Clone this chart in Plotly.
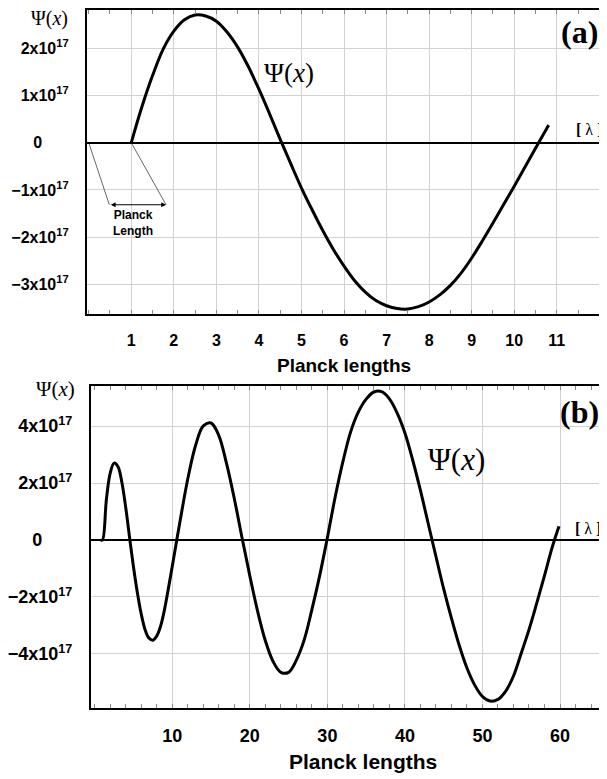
import plotly.graph_objects as go

PSI_SCALE = 1e17

# Panel (a): values (x in Planck lengths, psi in units of 1e17)
x_a = [1.0, 1.25, 1.5, 1.75, 2.0, 2.25, 2.5, 2.75, 3.0, 3.25, 3.5, 3.75, 4.0, 4.25, 4.5,
       4.75, 5.0, 5.25, 5.5, 5.75, 6.0, 6.25, 6.5, 6.75, 7.0, 7.25, 7.5, 7.75, 8.0, 8.25,
       8.5, 8.75, 9.0, 9.25, 9.5, 9.75, 10.0, 10.25, 10.5, 10.75, 10.81]
psi_a = [0.0, 0.76, 1.42, 1.98, 2.36, 2.60, 2.70, 2.68, 2.57, 2.34, 2.02, 1.61, 1.13, 0.61, 0.07,
         -0.45, -0.96, -1.42, -1.86, -2.26, -2.61, -2.92, -3.16, -3.34, -3.45, -3.51, -3.52, -3.47, -3.37, -3.22,
         -3.02, -2.76, -2.44, -2.08, -1.70, -1.31, -0.92, -0.52, -0.12, 0.28, 0.37]

# Panel (b)
x_b = [0.8, 1.0, 1.5, 2.0, 2.5, 3.0, 3.5, 4.0, 4.5, 5.0, 5.5, 6.0, 6.5, 7.0, 7.5, 8.0, 8.5,
       9.0, 9.5, 10.0, 10.5, 11, 12, 13, 14, 15, 16, 17, 18, 19, 20, 21, 22, 23, 24, 25, 26,
       27, 28, 29, 30, 31, 32, 33, 34, 35, 36, 37, 38, 39, 40, 41, 42, 43, 44, 45, 46, 47, 48,
       49, 50, 51, 52, 53, 54, 55, 56, 57, 58, 59, 59.87]
psi_b = [0.0, 0.0, 1.42, 2.36, 2.70, 2.57, 2.02, 1.13, 0.07, -0.96, -1.86, -2.61, -3.16, -3.45, -3.52, -3.37, -3.02,
         -2.44, -1.70, -0.92, -0.12, 0.66, 2.15, 3.32, 4.01, 4.11, 3.67, 2.68, 1.45, 0.07, -1.26, -2.50, -3.54, -4.27, -4.65, -4.65, -4.22,
         -3.52, -2.45, -1.26, 0.08, 1.50, 2.75, 3.80, 4.50, 4.95, 5.20, 5.21, 4.96, 4.46, 3.76, 2.81, 1.74, 0.58, -0.58, -1.72, -2.75, -3.70, -4.50,
         -5.10, -5.50, -5.66, -5.60, -5.31, -4.78, -3.98, -3.15, -2.22, -1.25, -0.25, 0.48]

xticks_a = [1, 2, 3, 4, 5, 6, 7, 8, 9, 10, 11]
yticks_a = [-3, -2, -1, 0, 1, 2]
xticks_b = [10, 20, 30, 40, 50, 60]
yticks_b = [-4, -2, 0, 2, 4]

planck_span = [0.0, 1.0]          # one Planck length marked on panel (a)
planck_label = "Planck<br>Length"
x_title = "Planck lengths"
psi_label = "Ψ(<i>x</i>)"

# The page body adds an 8px margin; the figure is sized so that it fills the window.
W, H, OFF = 599, 771, 8


def px(xp):
    return (xp - OFF) / W


def py(yp):
    return 1 - (yp - OFF) / H


def ytext(v, pad):
    if v == 0:
        return "0" + "&nbsp;" * pad
    s = "−" if v < 0 else ""
    return f"{s}{abs(v)}x10<sup>17</sup>"


fig = go.Figure()
fig.add_trace(go.Scatter(x=x_a, y=[v * PSI_SCALE for v in psi_a], mode="lines",
                         line=dict(color="black", width=3, shape="spline", smoothing=1.0),
                         xaxis="x", yaxis="y", showlegend=False, hoverinfo="skip"))
fig.add_trace(go.Scatter(x=x_b, y=[v * PSI_SCALE for v in psi_b], mode="lines",
                         line=dict(color="black", width=3, shape="spline", smoothing=1.0),
                         xaxis="x2", yaxis="y2", showlegend=False, hoverinfo="skip"))

tickfont_a = dict(family="Liberation Sans", size=16, color="black", weight="bold")
tickfont_b = dict(family="Liberation Sans", size=18, color="black", weight="bold")
grid = "#d2d2d2"

common_x = dict(showline=True, linecolor="black", linewidth=2, mirror="ticks",
                showgrid=True, gridcolor=grid, gridwidth=1, zeroline=False,
                ticks="", ticklabelstandoff=11, fixedrange=True)
common_y = dict(showline=True, linecolor="black", linewidth=2, mirror=False,
                showgrid=True, gridcolor=grid, gridwidth=1,
                zeroline=True, zerolinecolor="black", zerolinewidth=2,
                ticks="", ticklabelstandoff=13, fixedrange=True)

fig.update_layout(
    width=W, height=H,
    margin=dict(l=0, r=0, t=0, b=0),
    paper_bgcolor="white", plot_bgcolor="white",
    xaxis=dict(common_x, domain=[px(79), 1.0], range=[-0.042, 12.18], anchor="y",
               tickvals=xticks_a, ticktext=[str(v) for v in xticks_a], tickfont=tickfont_a,
               minor=dict(tick0=0, dtick=0.5, ticks="inside", ticklen=4, tickcolor="#888",
                          showgrid=False)),
    yaxis=dict(common_y, domain=[py(313), 1.0], range=[-3.629e17, 2.806e17], anchor="x",
               tickvals=[v * PSI_SCALE for v in yticks_a],
               ticktext=[ytext(v, 6) for v in yticks_a], tickfont=tickfont_a),
    xaxis2=dict(common_x, domain=[px(83), 1.0], range=[-0.50, 66.06], anchor="y2",
                tickvals=xticks_b, ticktext=[str(v) for v in xticks_b], tickfont=tickfont_b,
                minor=dict(tick0=0, dtick=2, ticks="inside", ticklen=4, tickcolor="#888",
                           showgrid=False)),
    yaxis2=dict(common_y, domain=[py(707.7), py(385)], range=[-5.90e17, 5.41e17], anchor="x2",
                tickvals=[v * PSI_SCALE for v in yticks_b],
                ticktext=[ytext(v, 6) for v in yticks_b], tickfont=tickfont_b),
)

serif = "Liberation Serif"
ann = []
# axis-corner psi labels
ann.append(dict(text=psi_label, xref="paper", yref="paper", x=px(41.5), y=py(16.5),
                font=dict(family=serif, size=20, color="black")))
ann.append(dict(text=psi_label, xref="paper", yref="paper", x=px(46.7), y=py(388),
                font=dict(family=serif, size=21, color="black")))
# curve labels
ann.append(dict(text=psi_label, xref="paper", yref="paper", x=px(284), y=py(71),
                font=dict(family=serif, size=27, color="black")))
ann.append(dict(text=psi_label, xref="paper", yref="paper", x=px(454), y=py(459),
                font=dict(family=serif, size=31, color="black")))
# panel letters
ann.append(dict(text="<b>(a)</b>", xref="paper", yref="paper", x=px(579), y=py(30),
                font=dict(family=serif, size=32, color="black")))
ann.append(dict(text="<b>(b)</b>", xref="paper", yref="paper", x=px(579), y=py(411),
                font=dict(family=serif, size=32, color="black")))
# [ λ ]
ann.append(dict(text="<b>[</b> λ <b>]</b>", xref="paper", yref="paper", x=px(589), y=py(128),
                font=dict(family=serif, size=16, color="black")))
ann.append(dict(text="<b>[</b> λ <b>]</b>", xref="paper", yref="paper", x=px(588), y=py(528),
                font=dict(family=serif, size=16, color="black")))
# x titles
ann.append(dict(text=f"<b>{x_title}</b>", xref="paper", yref="paper", x=px(340), y=py(364),
                font=dict(family="Liberation Sans", size=19, color="black")))
ann.append(dict(text=f"<b>{x_title}</b>", xref="paper", yref="paper", x=px(359), y=py(761),
                font=dict(family="Liberation Sans", size=21, color="black")))

# Planck length bracket in panel (a)
shift_x = 0.484          # horizontal shift of the bracket below the axis
bracket_y = -1.314e17
for p in planck_span:
    ann.append(dict(x=p + shift_x + 0.333 * p, y=bracket_y, ax=p, ay=0,
                    xref="x", yref="y", axref="x", ayref="y", text="", showarrow=True,
                    arrowhead=0, arrowwidth=1, arrowcolor="#666"))
ann.append(dict(x=planck_span[1] + shift_x + 0.333, y=bracket_y,
                ax=planck_span[0] + shift_x, ay=bracket_y,
                xref="x", yref="y", axref="x", ayref="y", text="", showarrow=True,
                arrowhead=2, startarrowhead=2, arrowside="end+start", arrowsize=0.8,
                arrowwidth=1.2, arrowcolor="black"))
ann.append(dict(text=f"<b>{planck_label}</b>", x=1.05, y=-1.71e17, xref="x", yref="y",
                showarrow=False, font=dict(family="Liberation Sans", size=12, color="black"),
                align="center"))

for a in ann:
    a.setdefault("showarrow", False)
    a.setdefault("xanchor", "center")
    a.setdefault("yanchor", "middle")
fig.update_layout(annotations=ann)

fig.write_html("out.html")
